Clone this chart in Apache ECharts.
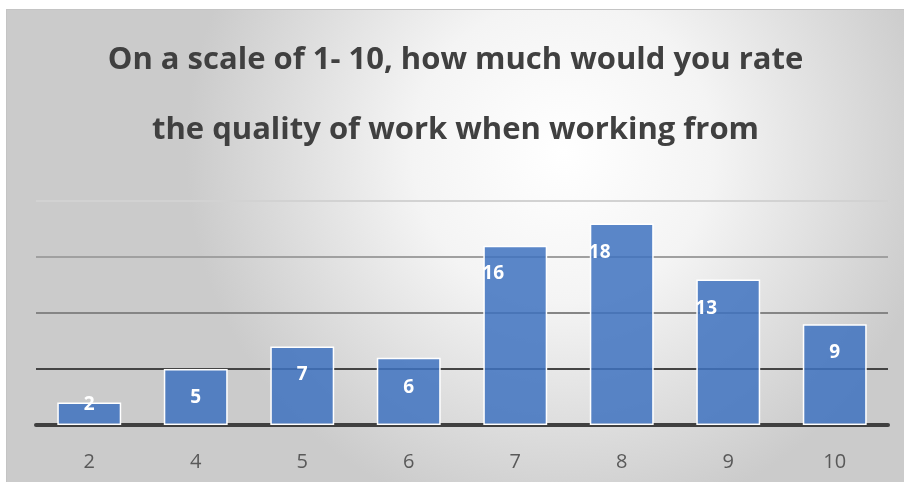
<!DOCTYPE html>
<html>
<head>
<meta charset="utf-8">
<script src="https://cdn.jsdelivr.net/npm/echarts@6/dist/echarts.min.js"></script>
<style>
  html, body { margin: 0; padding: 0; background: #fff; }
  #chart {
    position: absolute; left: 6px; top: 9px;
    width: 898px; height: 473px;
    border-top: 1px solid #c4c4c4; border-left: 1px solid #c4c4c4;
    box-sizing: border-box;
  }
</style>
</head>
<body>
<div id="chart"></div>
<script>
var ratings = ['2', '4', '5', '6', '7', '8', '9', '10'];
var counts = [2, 5, 7, 6, 16, 18, 13, 9];
// where Excel put each data label
var labelPos = ['top', 'inside', 'insideTop', 'inside', 'insideTopLeft', 'insideTopLeft', 'insideTopLeft', 'insideTop'];
var labelOff = [[0, 11], [0, 1], [0, 18], [0, -4], [-1, 18], [-1, 20], [-1, 20], [0, 19]];

var myChart = echarts.init(document.getElementById('chart'));

var barData = counts.map(function (v, i) {
  return {
    value: v,
    label: { position: labelPos[i], distance: 0, offset: labelOff[i] }
  };
});

var option = {
  backgroundColor: {
    type: 'radial', x: 0.62, y: 0.3, r: 0.8,
    colorStops: [
      { offset: 0, color: '#ffffff' },
      { offset: 0.4, color: '#f4f4f4' },
      { offset: 1, color: '#cbcbcb' }
    ]
  },
  title: {
    text: 'On a scale of 1- 10, how much would you rate\nthe quality of work when working from',
    left: 'center',
    top: 10,
    textStyle: {
      fontFamily: 'Open Sans',
      fontWeight: 'bold',
      fontSize: 31,
      lineHeight: 70,
      color: '#404040'
    }
  },
  grid: { left: 29, right: 16, top: 191, bottom: 57 },
  xAxis: {
    type: 'category',
    data: ratings,
    axisTick: { show: false },
    axisLine: { show: true, lineStyle: { color: '#404040', width: 4 } },
    axisLabel: { color: '#595959', fontSize: 20, fontFamily: 'Open Sans', margin: 27 }
  },
  yAxis: {
    type: 'value',
    min: 0, max: 20, interval: 5,
    axisLabel: { show: false },
    axisLine: { show: false },
    axisTick: { show: false },
    splitLine: {
      lineStyle: { color: ['#404040', '#444444', '#858585', '#a0a0a0', '#d2d2d2'], width: 2 }
    }
  },
  series: [{
    type: 'bar',
    data: barData,
    barWidth: '60%',
    itemStyle: {
      color: 'rgba(62,114,192,0.85)',
      borderColor: '#ffffff',
      borderWidth: 1.5
    },
    label: {
      show: true,
      color: '#ffffff',
      fontWeight: 'bold',
      fontSize: 19,
      fontFamily: 'Open Sans'
    }
  }]
};

myChart.setOption(option);
</script>
</body>
</html>
